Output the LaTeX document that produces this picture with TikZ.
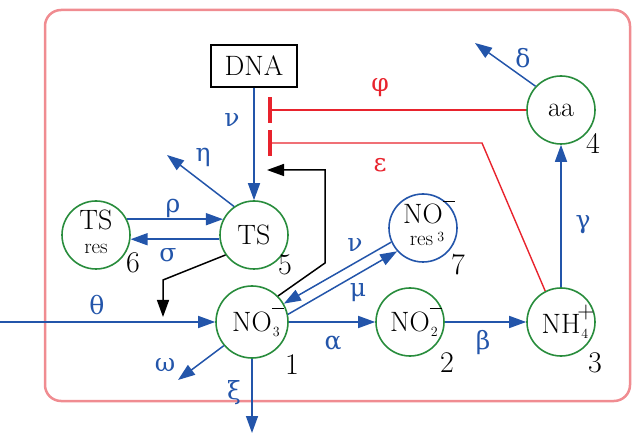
\documentclass[tikz,border=0pt]{standalone}
\usepackage{fontspec}
\newfontfamily\gr{DejaVu Serif}
\usetikzlibrary{arrows.meta}
\definecolor{nblue}{RGB}{35,85,170}
\definecolor{ngreen}{RGB}{40,140,60}
\definecolor{nred}{RGB}{232,35,45}
\definecolor{npink}{RGB}{240,140,145}
\newcommand{\subsc}[2][-5pt]{\makebox[0pt][l]{\raisebox{#1}{\fontsize{14}{14}\selectfont\hspace{1pt}#2}}}
\newcommand{\minusbar}[1][22pt]{\makebox[0pt][l]{\raisebox{#1}{\rule{12pt}{1.4pt}}}}
\newcommand{\plussign}{\makebox[0pt][l]{\hspace{-3pt}\raisebox{15pt}{\fontsize{24}{24}\selectfont +}}}
\begin{document}
\begin{tikzpicture}[x=1pt,y=-1pt,
  every node/.style={font=\fontsize{28}{32}\selectfont},
  species/.style={circle,draw=ngreen,line width=1.6pt,minimum size=68pt,inner sep=0pt,font=\fontsize{28}{32}\selectfont},
  flux/.style={draw=nblue,line width=1.5pt,-{Triangle[length=17pt,width=12pt]}},
  ctrl/.style={draw=black,line width=1.5pt,-{Triangle[length=17pt,width=12pt]}},
  inhib/.style={draw=nred,line width=1.4pt,-{Bar[width=26pt,line width=3.5pt]}},
  lab/.style={text=nblue,font=\fontsize{25}{30}\gr},
  rlab/.style={text=nred,font=\fontsize{25}{30}\gr},
  num/.style={text=black,font=\fontsize{30}{32}\selectfont}]
\useasboundingbox (0,0) rectangle (634,435);
\draw[npink,line width=2.5pt,rounded corners=16pt] (45,10) rectangle (630,401);

% nodes
\node[draw,line width=1.4pt,minimum width=86pt,minimum height=42pt,inner sep=0pt] (dna) at (254,66) {DNA};
\node[species] (ts) at (254,235) {TS};
\node[species] (tsres) at (96,235) {\begin{tabular}{@{}c@{}}TS\\[-8pt]\fontsize{21}{21}\selectfont res\end{tabular}};
\node[species,minimum size=72pt] (no3) at (252,322) {NO\subsc{3}\minusbar\hspace{10pt}};
\node[species] (no2) at (410,322) {NO\subsc{2}\minusbar\hspace{10pt}};
\node[species] (nh4) at (561,322) {NH\subsc{4}\plussign\hspace{10pt}};
\node[species] (aa) at (561,110) {aa};
\node[species,draw=nblue] (no3res) at (423,228) {\begin{tabular}{@{}c@{}}NO\minusbar[21pt]\hspace{6pt}\\[-10pt]\fontsize{21}{21}\selectfont res\hspace{3pt}\subsc[4pt]{3}\hspace{6pt}\end{tabular}};

% coordinates
\coordinate (etatip) at (167,155);
\coordinate (inhA) at (268,110);
\coordinate (inhB) at (268,143);
\coordinate (epsbend) at (482,143);
\coordinate (tsk1) at (163,280);
\coordinate (tsk2) at (163,317);
\coordinate (nk1) at (325,263);
\coordinate (nk2) at (325,170);
\coordinate (nk3) at (267,170);
\coordinate (thstart) at (0,322);
\coordinate (omtip) at (178,380);
\coordinate (xitip) at (252,433);
\coordinate (deltip) at (475,43);

% connectors
\draw[flux] (dna.south) -- (ts.north);
\draw[flux] (ts.125) -- (etatip);
\draw[flux] (tsres.27) -- (ts.153);
\draw[flux] (ts.-173) -- (tsres.-7);
\draw[ctrl] (ts.215) -- (tsk1) -- (tsk2);
\draw[ctrl] (no3.45) -- (nk1) -- (nk2) -- (nk3);
\draw[flux] (thstart) -- (no3.west);
\draw[flux] (no3.220) -- (omtip);
\draw[flux] (no3.south) -- (xitip);
\draw[flux] (no3.east) -- (no2.west);
\draw[flux] (no2.east) -- (nh4.west);
\draw[flux] (nh4.north) -- (aa.south);
\draw[flux] (aa.137) -- (deltip);
\draw[flux] (no3res.204) -- (no3.30);
\draw[flux] (no3.12) -- (no3res.222);
\draw[inhib] (aa.west) -- (inhA);
\draw[inhib] (nh4.117) -- (epsbend) -- (inhB);

% labels
\node[lab] (lnu) at (232,120) {ν};
\node[lab] (leta) at (203,157) {η};
\node[lab] (lrho) at (173,208) {ρ};
\node[lab] (lsig) at (168,255) {σ};
\node[lab] (lth) at (97,305) {θ};
\node[lab] (lom) at (165,365) {ω};
\node[lab] (lxi) at (234,393) {ξ};
\node[lab] (lal) at (333,343) {α};
\node[lab] (lbe) at (483,343) {β};
\node[lab] (lga) at (583,225) {γ};
\node[lab] (lde) at (523,58) {δ};
\node[lab] (lnu2) at (355,245) {ν};
\node[lab] (lmu) at (358,293) {μ};
\node[rlab] (lphi) at (380,88) {φ};
\node[rlab] (leps) at (380,165) {ε};

\node[num] (n1) at (292,365) {1};
\node[num] (n2) at (447,363) {2};
\node[num] (n3) at (595,363) {3};
\node[num] (n4) at (593,143) {4};
\node[num] (n5) at (285,265) {5};
\node[num] (n6) at (133,263) {6};
\node[num] (n7) at (458,265) {7};
\end{tikzpicture}
\end{document}
